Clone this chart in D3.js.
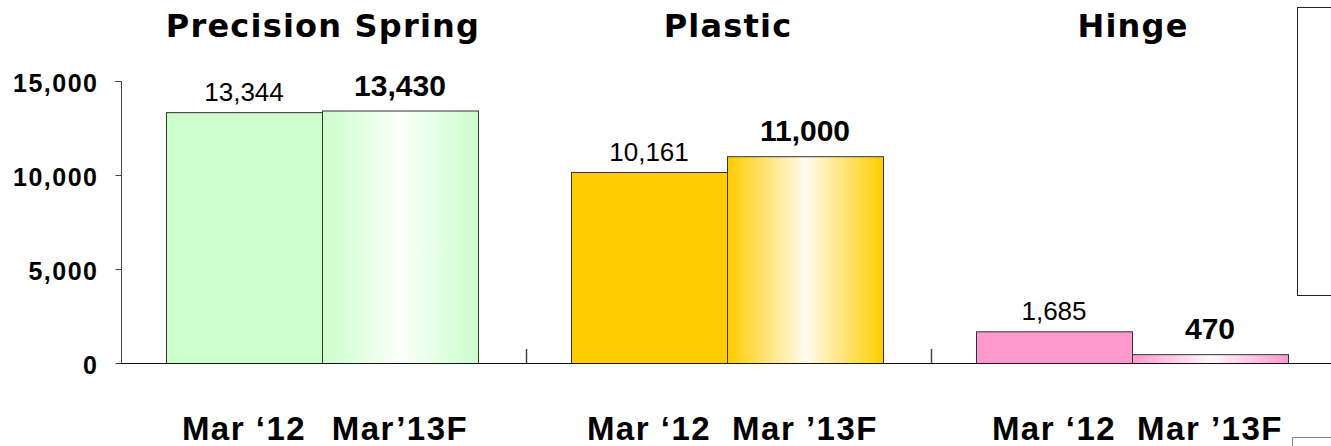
<!DOCTYPE html>
<html>
<head>
<meta charset="utf-8">
<script src="https://cdn.jsdelivr.net/npm/d3@7"></script>
<style>
  html, body { margin: 0; padding: 0; background: #fff; }
  svg { display: block; }
  text { font-family: "Liberation Sans", Arial, sans-serif; fill: #000; }
</style>
</head>
<body>
<svg id="chart" width="1331" height="446"></svg>
<script>
// Segment sales, actual vs. forecast
const segments = ["Precision Spring", "Plastic", "Hinge"];
const periods = ["Mar'12", "Mar'13F"];
const actual = [13344, 10161, 1685];      // Mar '12
const forecast = [13430, 11000, 470];     // Mar '13F
const periodLabels = [
  ["Mar \u201812", "Mar\u201913F"],
  ["Mar \u201812", "Mar \u201913F"],
  ["Mar \u201812", "Mar \u201913F"]
];
const yTicks = [0, 5000, 10000, 15000];
const segmentColors = ["#ccffcc", "#ffcc00", "#ff99cc"];

const svg = d3.select("#chart");
const fmt = d3.format(",");

const x0 = d3.scaleBand().domain(segments).range([121, 1336]);
const x1 = d3.scaleBand().domain(periods).range([45, 357]);
const y = d3.scaleLinear().domain([0, 15000]).range([363, 81]);

// gradients for forecast bars: segment colour at the edges, near-white centre
const defs = svg.append("defs");
segmentColors.forEach((c, i) => {
  const g = defs.append("linearGradient")
    .attr("id", "grad" + i)
    .attr("x1", "0%").attr("x2", "100%").attr("y1", "0%").attr("y2", "0%");
  const mid = d3.interpolateRgb(c, "#ffffff")(0.93);
  g.append("stop").attr("offset", "0%").attr("stop-color", c);
  g.append("stop").attr("offset", "50%").attr("stop-color", mid);
  g.append("stop").attr("offset", "100%").attr("stop-color", c);
});

// y axis
const yAxis = svg.append("g")
  .attr("transform", "translate(121.5,0)")
  .call(d3.axisLeft(y).tickValues(yTicks).tickSize(6).tickPadding(17).tickFormat(fmt));
yAxis.select(".domain").attr("stroke", "#444").attr("d", "M-6," + (y(15000) + 0.5) + "H0V" + (y(0) + 0.5));
yAxis.selectAll(".tick line").attr("stroke", "#444");
yAxis.selectAll(".tick text")
  .style("font-size", "25px").style("font-weight", "bold")
  .style("letter-spacing", "1.5px")
  .attr("dy", "0.4em");

// segment groups
const groups = svg.append("g").selectAll("g")
  .data(segments)
  .join("g")
  .attr("transform", d => `translate(${x0(d)},0)`);

groups.each(function(seg, i) {
  const g = d3.select(this);
  const vals = [actual[i], forecast[i]];
  periods.forEach((p, j) => {
    g.append("rect")
      .attr("x", x1(p) + 0.5)
      .attr("y", y(vals[j]) + 0.5)
      .attr("width", x1.bandwidth())
      .attr("height", y(0) - y(vals[j]))
      .attr("fill", j === 0 ? segmentColors[i] : `url(#grad${i})`)
      .attr("stroke", "#333")
      .attr("stroke-width", 1);

    // value labels
    g.append("text")
      .attr("x", x1(p) + x1.bandwidth() / 2)
      .attr("y", y(vals[j]) - (j === 0 ? 11 : 15))
      .attr("text-anchor", "middle")
      .style("font-size", j === 0 ? "26px" : "30px")
      .style("font-weight", j === 0 ? "normal" : "bold")
      .text(fmt(vals[j]));

    // period labels
    g.append("text")
      .attr("x", x1(p) + x1.bandwidth() / 2)
      .attr("y", 440)
      .attr("text-anchor", "middle")
      .style("font-size", "33px")
      .style("font-weight", "bold")
      .style("letter-spacing", "1.5px")
      .text(periodLabels[i][j]);
  });

  // segment title
  g.append("text")
    .attr("x", x1.range()[0] + (x1.range()[1] - x1.range()[0]) / 2 + 1)
    .attr("y", 37)
    .attr("text-anchor", "middle")
    .style("font-family", "'DejaVu Sans', sans-serif")
    .style("font-size", "32px")
    .style("font-weight", "bold")
    .style("letter-spacing", "1.2px")
    .text(seg);
});

// x axis baseline and segment separators
svg.append("line")
  .attr("x1", 121).attr("x2", 1331)
  .attr("y1", y(0) + 0.5).attr("y2", y(0) + 0.5)
  .attr("stroke", "#111").attr("stroke-width", 1.2);
svg.append("g").selectAll("line")
  .data(segments.slice(1))
  .join("line")
  .attr("x1", d => x0(d) + 0.5).attr("x2", d => x0(d) + 0.5)
  .attr("y1", y(0) - 14).attr("y2", y(0))
  .attr("stroke", "#444").attr("stroke-width", 1.5);

// legend frame at the right edge
svg.append("rect")
  .attr("x", 1297.5).attr("y", 7.5)
  .attr("width", 60).attr("height", 288)
  .attr("fill", "#fff").attr("stroke", "#222").attr("stroke-width", 1);

// note frame at bottom right
svg.append("rect")
  .attr("x", 1292.5).attr("y", 437.5)
  .attr("width", 60).attr("height", 20)
  .attr("fill", "none").attr("stroke", "#888").attr("stroke-width", 1);
</script>
</body>
</html>
